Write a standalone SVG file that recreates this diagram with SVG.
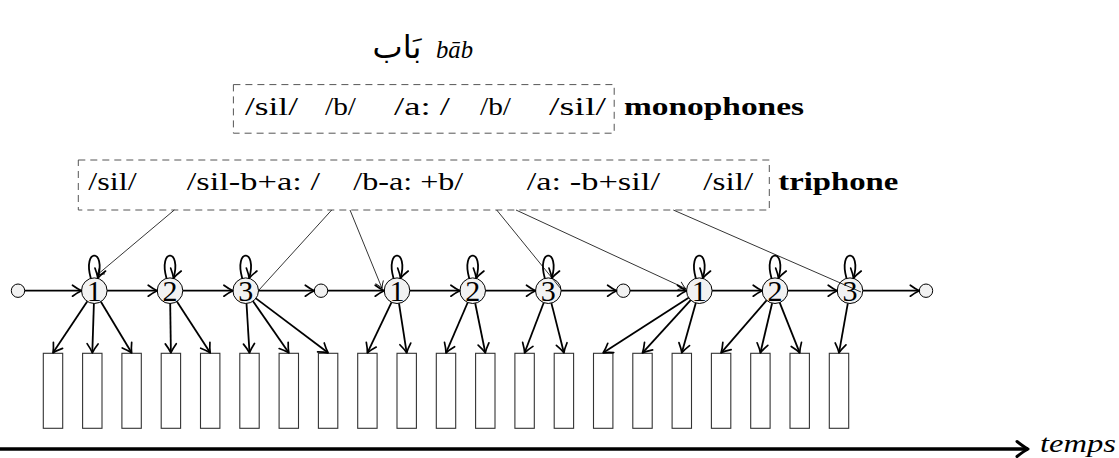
<svg xmlns="http://www.w3.org/2000/svg" width="1119" height="458" viewBox="0 0 1119 458">
<style>
.lbl{font-family:"Liberation Serif","Times New Roman",serif;font-size:26px;fill:#000}
.bold{font-family:"Liberation Serif","Times New Roman",serif;font-size:26px;font-weight:bold;fill:#000}
.num{font-family:"Liberation Serif","Times New Roman",serif;font-size:30px;fill:#000;text-anchor:middle}
.box{fill:none;stroke:#555;stroke-width:1;stroke-dasharray:7 5}
.st{fill:#f2f2f2;stroke:#000;stroke-width:1}
.bar{fill:#fff;stroke:#333;stroke-width:1.1}
.e{fill:none;stroke:#000;stroke-width:1.8;marker-end:url(#ah)}
.t{fill:none;stroke:#000;stroke-width:0.8}
.ta{fill:none;stroke:#000;stroke-width:0.8;marker-end:url(#ahs)}
</style>
<defs>
<marker id="ah" markerUnits="userSpaceOnUse" viewBox="-12 -7 14 14" refX="0" refY="0" markerWidth="14" markerHeight="14" orient="auto" overflow="visible">
<path d="M -9 -5.5 Q -3.5 -1.5 0 0 Q -3.5 1.5 -9 5.5" fill="none" stroke="#000" stroke-width="1.7" stroke-linecap="round" stroke-linejoin="round"/>
</marker>
<marker id="ahs" markerUnits="userSpaceOnUse" viewBox="-8 -5 10 10" refX="0" refY="0" markerWidth="10" markerHeight="10" orient="auto" overflow="visible">
<path d="M -6.5 -4 Q -2.4 -1 0 0 Q -2.4 1 -6.5 4" fill="none" stroke="#000" stroke-width="0.9" stroke-linecap="round"/>
</marker>
<marker id="ahb" markerUnits="userSpaceOnUse" viewBox="-16 -10 20 20" refX="0" refY="0" markerWidth="20" markerHeight="20" orient="auto" overflow="visible">
<path d="M -11 -7.5 Q -4 -2 0 0 Q -4 2 -11 7.5" fill="none" stroke="#000" stroke-width="3" stroke-linecap="round" stroke-linejoin="round"/>
</marker>
</defs>

<g id="title">
<text x="397" y="58" font-family="DejaVu Sans, Noto Sans, sans-serif" font-size="32" text-anchor="middle">بَاب</text>
<text x="436" y="58" class="lbl" font-style="italic" textLength="37" lengthAdjust="spacingAndGlyphs">bāb</text>
</g>

<g id="monophones">
<rect class="box" x="233.4" y="84.6" width="380.8" height="48.6"/>
<text class="lbl" x="245" y="115" textLength="53" lengthAdjust="spacingAndGlyphs">/sil/</text>
<text class="lbl" x="325" y="115" textLength="31" lengthAdjust="spacingAndGlyphs">/b/</text>
<text class="lbl" x="394" y="115" textLength="56" lengthAdjust="spacingAndGlyphs">/a: /</text>
<text class="lbl" x="480" y="115" textLength="31" lengthAdjust="spacingAndGlyphs">/b/</text>
<text class="lbl" x="549" y="115" textLength="57" lengthAdjust="spacingAndGlyphs">/sil/</text>
<text class="bold" x="624" y="115" textLength="180" lengthAdjust="spacingAndGlyphs">monophones</text>
</g>

<g id="triphone">
<rect class="box" x="78.3" y="160" width="691" height="50"/>
<text class="lbl" x="88.3" y="190" textLength="48.4" lengthAdjust="spacingAndGlyphs">/sil/</text>
<text class="lbl" x="186.7" y="190" textLength="133.3" lengthAdjust="spacingAndGlyphs">/sil-b+a: /</text>
<text class="lbl" x="353.3" y="190" textLength="110" lengthAdjust="spacingAndGlyphs">/b-a: +b/</text>
<text class="lbl" x="526.7" y="190" textLength="133.3" lengthAdjust="spacingAndGlyphs">/a: -b+sil/</text>
<text class="lbl" x="703.3" y="190" textLength="50" lengthAdjust="spacingAndGlyphs">/sil/</text>
<text class="bold" x="778.3" y="190" textLength="120" lengthAdjust="spacingAndGlyphs">triphone</text>
</g>

<g id="nodes">
<g id="s0"><circle class="st" cx="18" cy="290.7" r="6.7"/></g>
<g id="g1s1"><circle class="st" cx="94.3" cy="290.7" r="12.8"/><text class="num" x="94.3" y="300.8">1</text></g>
<g id="g1s2"><circle class="st" cx="170" cy="290.7" r="12.8"/><text class="num" x="170" y="300.8">2</text></g>
<g id="g1s3"><circle class="st" cx="245.7" cy="290.7" r="12.8"/><text class="num" x="245.7" y="300.8">3</text></g>
<g id="s1"><circle class="st" cx="321" cy="290.7" r="6.7"/></g>
<g id="g2s1"><circle class="st" cx="397" cy="290.7" r="12.8"/><text class="num" x="397" y="300.8">1</text></g>
<g id="g2s2"><circle class="st" cx="472.7" cy="290.7" r="12.8"/><text class="num" x="472.7" y="300.8">2</text></g>
<g id="g2s3"><circle class="st" cx="548.3" cy="290.7" r="12.8"/><text class="num" x="548.3" y="300.8">3</text></g>
<g id="s2"><circle class="st" cx="623.3" cy="290.7" r="6.7"/></g>
<g id="g3s1"><circle class="st" cx="699.3" cy="290.7" r="12.8"/><text class="num" x="699.3" y="300.8">1</text></g>
<g id="g3s2"><circle class="st" cx="775" cy="290.7" r="12.8"/><text class="num" x="775" y="300.8">2</text></g>
<g id="g3s3"><circle class="st" cx="850" cy="290.7" r="12.8"/><text class="num" x="850" y="300.8">3</text></g>
<g id="s3"><circle class="st" cx="926" cy="290.7" r="6.7"/></g>
</g>

<g id="frames">
<g id="f0"><rect class="bar" x="43.3" y="353.3" width="19.4" height="75"/></g>
<g id="f1"><rect class="bar" x="82.6" y="353.3" width="19.4" height="75"/></g>
<g id="f2"><rect class="bar" x="121.9" y="353.3" width="19.4" height="75"/></g>
<g id="f3"><rect class="bar" x="161.2" y="353.3" width="19.4" height="75"/></g>
<g id="f4"><rect class="bar" x="200.5" y="353.3" width="19.4" height="75"/></g>
<g id="f5"><rect class="bar" x="239.8" y="353.3" width="19.4" height="75"/></g>
<g id="f6"><rect class="bar" x="279.1" y="353.3" width="19.4" height="75"/></g>
<g id="f7"><rect class="bar" x="318.4" y="353.3" width="19.4" height="75"/></g>
<g id="f8"><rect class="bar" x="357.7" y="353.3" width="19.4" height="75"/></g>
<g id="f9"><rect class="bar" x="397" y="353.3" width="19.4" height="75"/></g>
<g id="f10"><rect class="bar" x="436.3" y="353.3" width="19.4" height="75"/></g>
<g id="f11"><rect class="bar" x="475.6" y="353.3" width="19.4" height="75"/></g>
<g id="f12"><rect class="bar" x="514.9" y="353.3" width="19.4" height="75"/></g>
<g id="f13"><rect class="bar" x="554.2" y="353.3" width="19.4" height="75"/></g>
<g id="f14"><rect class="bar" x="593.5" y="353.3" width="19.4" height="75"/></g>
<g id="f15"><rect class="bar" x="632.8" y="353.3" width="19.4" height="75"/></g>
<g id="f16"><rect class="bar" x="672.1" y="353.3" width="19.4" height="75"/></g>
<g id="f17"><rect class="bar" x="711.4" y="353.3" width="19.4" height="75"/></g>
<g id="f18"><rect class="bar" x="750.7" y="353.3" width="19.4" height="75"/></g>
<g id="f19"><rect class="bar" x="790" y="353.3" width="19.4" height="75"/></g>
<g id="f20"><rect class="bar" x="829.3" y="353.3" width="19.4" height="75"/></g>
</g>

<g id="axis">
<line x1="0" y1="449" x2="1028" y2="449" stroke="#000" stroke-width="3.4" marker-end="url(#ahb)"/>
<text x="1040" y="451.5" class="lbl" font-style="italic" font-size="25" textLength="76" lengthAdjust="spacingAndGlyphs">temps</text>
</g>

<g id="connectors">
<line class="e" x1="24.7" y1="290.7" x2="81.5" y2="290.7"/>
<line class="e" x1="107.1" y1="290.7" x2="157.2" y2="290.7"/>
<line class="e" x1="182.8" y1="290.7" x2="232.9" y2="290.7"/>
<line class="e" x1="258.5" y1="290.7" x2="314.3" y2="290.7"/>
<line class="e" x1="327.7" y1="290.7" x2="384.2" y2="290.7"/>
<line class="e" x1="409.8" y1="290.7" x2="459.9" y2="290.7"/>
<line class="e" x1="485.5" y1="290.7" x2="535.5" y2="290.7"/>
<line class="e" x1="561.1" y1="290.7" x2="616.6" y2="290.7"/>
<line class="e" x1="630" y1="290.7" x2="686.5" y2="290.7"/>
<line class="e" x1="712.1" y1="290.7" x2="762.2" y2="290.7"/>
<line class="e" x1="787.8" y1="290.7" x2="837.2" y2="290.7"/>
<line class="e" x1="862.8" y1="290.7" x2="919.3" y2="290.7"/>
<path class="e" d="M 90.8 278.2 C 82.3 248 106.3 248 97.8 278.2"/>
<path class="e" d="M 166.5 278.2 C 158 248 182 248 173.5 278.2"/>
<path class="e" d="M 242.2 278.2 C 233.7 248 257.7 248 249.2 278.2"/>
<path class="e" d="M 393.5 278.2 C 385 248 409 248 400.5 278.2"/>
<path class="e" d="M 469.2 278.2 C 460.7 248 484.7 248 476.2 278.2"/>
<path class="e" d="M 544.8 278.2 C 536.3 248 560.3 248 551.8 278.2"/>
<path class="e" d="M 695.8 278.2 C 687.3 248 711.3 248 702.8 278.2"/>
<path class="e" d="M 771.5 278.2 C 763 248 787 248 778.5 278.2"/>
<path class="e" d="M 846.5 278.2 C 838 248 862 248 853.5 278.2"/>
<line class="e" x1="87.2" y1="301.4" x2="53" y2="352.8"/>
<line class="e" x1="93.9" y1="303.5" x2="92.3" y2="352.8"/>
<line class="e" x1="100.9" y1="301.7" x2="131.6" y2="352.8"/>
<line class="e" x1="170.2" y1="303.5" x2="170.9" y2="352.8"/>
<line class="e" x1="176.9" y1="301.5" x2="210.2" y2="352.8"/>
<line class="e" x1="246.5" y1="303.5" x2="249.5" y2="352.8"/>
<line class="e" x1="253" y1="301.2" x2="288.8" y2="352.8"/>
<line class="e" x1="255.9" y1="298.4" x2="328.1" y2="352.8"/>
<line class="e" x1="391.5" y1="302.3" x2="367.4" y2="352.8"/>
<line class="e" x1="399" y1="303.3" x2="406.7" y2="352.8"/>
<line class="e" x1="467.7" y1="302.5" x2="446" y2="352.8"/>
<line class="e" x1="475.2" y1="303.2" x2="485.3" y2="352.8"/>
<line class="e" x1="543.7" y1="302.7" x2="524.6" y2="352.8"/>
<line class="e" x1="551.4" y1="303.1" x2="563.9" y2="352.8"/>
<line class="e" x1="688.6" y1="297.7" x2="603.2" y2="352.8"/>
<line class="e" x1="690.7" y1="300.2" x2="642.5" y2="352.8"/>
<line class="e" x1="695.8" y1="303" x2="681.8" y2="352.8"/>
<line class="e" x1="766.6" y1="300.4" x2="721.1" y2="352.8"/>
<line class="e" x1="772.1" y1="303.2" x2="760.4" y2="352.8"/>
<line class="e" x1="779.7" y1="302.6" x2="799.7" y2="352.8"/>
<line class="e" x1="847.8" y1="303.3" x2="839" y2="352.8"/>
<line class="ta" x1="174.3" y1="210" x2="97" y2="275"/>
<line class="t" x1="331.7" y1="210" x2="259" y2="290"/>
<line class="ta" x1="350" y1="210" x2="382" y2="288.3"/>
<line class="t" x1="496.7" y1="210" x2="561" y2="289"/>
<line class="ta" x1="516" y1="210" x2="685.5" y2="288.5"/>
<line class="t" x1="673.3" y1="210" x2="861" y2="292"/>
</g>
</svg>
